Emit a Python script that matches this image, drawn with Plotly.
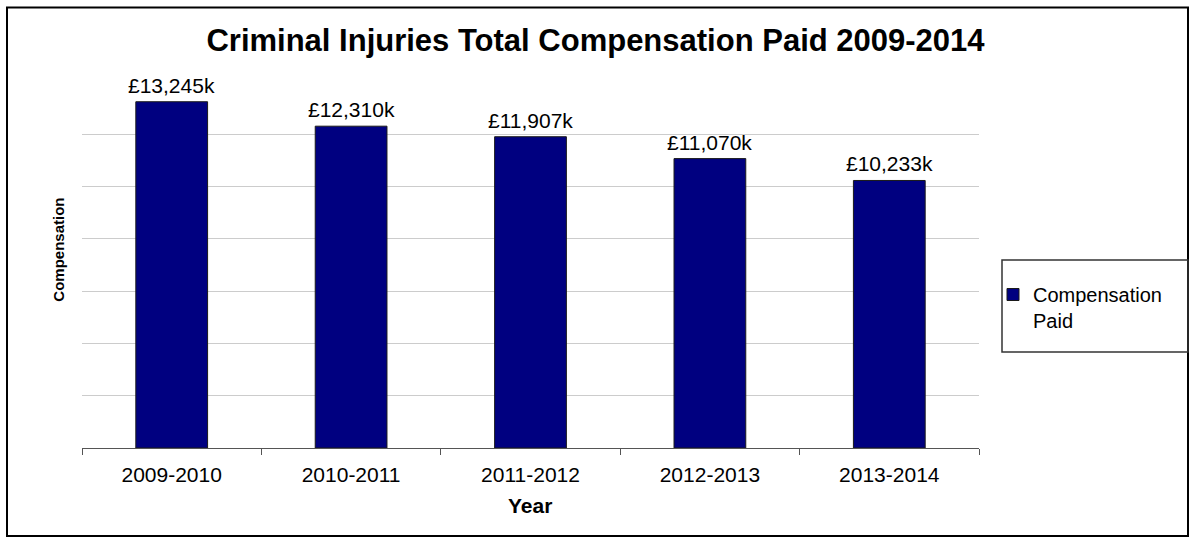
import plotly.graph_objects as go

# Compensation paid per financial year, in thousands of pounds
years = ["2009-2010", "2010-2011", "2011-2012", "2012-2013", "2013-2014"]
compensation_k = [13245, 12310, 11907, 11070, 10233]
series_name = "Compensation<br>Paid"

W, H = 1192, 539
L, R, T, B = 82, 213, 82, 91
PW, PH = W - L - R, H - T - B


def px_x(px):
    return (px - L) / PW


def px_y(py):
    return (H - B - py) / PH


FONT = "Liberation Sans, Arial, sans-serif"

fig = go.Figure()
fig.add_trace(go.Bar(
    x=years,
    y=compensation_k,
    name=series_name,
    width=0.4,
    marker=dict(color="#000080", line=dict(color="#1a1a1a", width=1)),
    showlegend=True,
))

# value labels above each bar
value_labels = [
    dict(x=yr, y=v, xref="x", yref="y", text=f"£{v:,}k",
         xanchor="center", yanchor="bottom", yshift=3, showarrow=False,
         font=dict(family=FONT, size=21, color="#000000"))
    for yr, v in zip(years, compensation_k)
]

fig.update_layout(
    width=W,
    height=H,
    margin=dict(l=L, r=R, t=T, b=B, pad=0),
    paper_bgcolor="#ffffff",
    plot_bgcolor="#ffffff",
    font=dict(family=FONT, color="#000000"),
    title=dict(
        text="<b>Criminal Injuries Total Compensation Paid 2009-2014</b>",
        x=595.5 / W, xref="container", xanchor="center",
        y=1 - 40 / H, yref="container", yanchor="middle",
        font=dict(family=FONT, size=31, color="#000000"),
    ),
    showlegend=True,
    legend=dict(
        x=px_x(993), xanchor="left",
        y=px_y(275), yanchor="top",
        bgcolor="rgba(0,0,0,0)",
        borderwidth=0,
        valign="top",
        font=dict(family=FONT, size=20, color="#000000"),
    ),
    xaxis=dict(
        type="category",
        range=[-0.5, 4.5],
        showline=True, linecolor="#555555", linewidth=1,
        ticks="outside", tickson="boundaries", ticklen=6,
        tickcolor="#555555", tickwidth=1,
        ticklabelstandoff=8,
        tickfont=dict(family=FONT, size=21, color="#000000"),
        showgrid=False,
        zeroline=False,
    ),
    yaxis=dict(
        range=[0, 14000],
        dtick=2000,
        showgrid=True, gridcolor="#cccccc", gridwidth=1,
        showticklabels=False,
        showline=False,
        zeroline=False,
        ticks="",
    ),
    annotations=value_labels + [
        dict(text="<b>Year</b>", xref="paper", yref="paper",
             x=px_x(529.5), y=px_y(505), xanchor="center", yanchor="middle",
             showarrow=False, font=dict(family=FONT, size=21, color="#000000")),
        dict(text="<b>Compensation</b>", xref="paper", yref="paper",
             x=px_x(58.7), y=px_y(250), xanchor="center", yanchor="middle",
             textangle=-90, showarrow=False,
             font=dict(family=FONT, size=15, color="#000000")),
    ],
    shapes=[
        # outer chart frame
        dict(type="rect", xref="paper", yref="paper", layer="above",
             x0=px_x(7), x1=px_x(1188), y0=px_y(536), y1=px_y(7.5),
             line=dict(color="#000000", width=2), fillcolor="rgba(0,0,0,0)"),
        # legend frame
        dict(type="rect", xref="paper", yref="paper", layer="above",
             x0=px_x(1002), x1=px_x(1188), y0=px_y(352), y1=px_y(260),
             line=dict(color="#333333", width=1.5), fillcolor="rgba(0,0,0,0)"),
    ],
)

fig.write_html("out.html")
